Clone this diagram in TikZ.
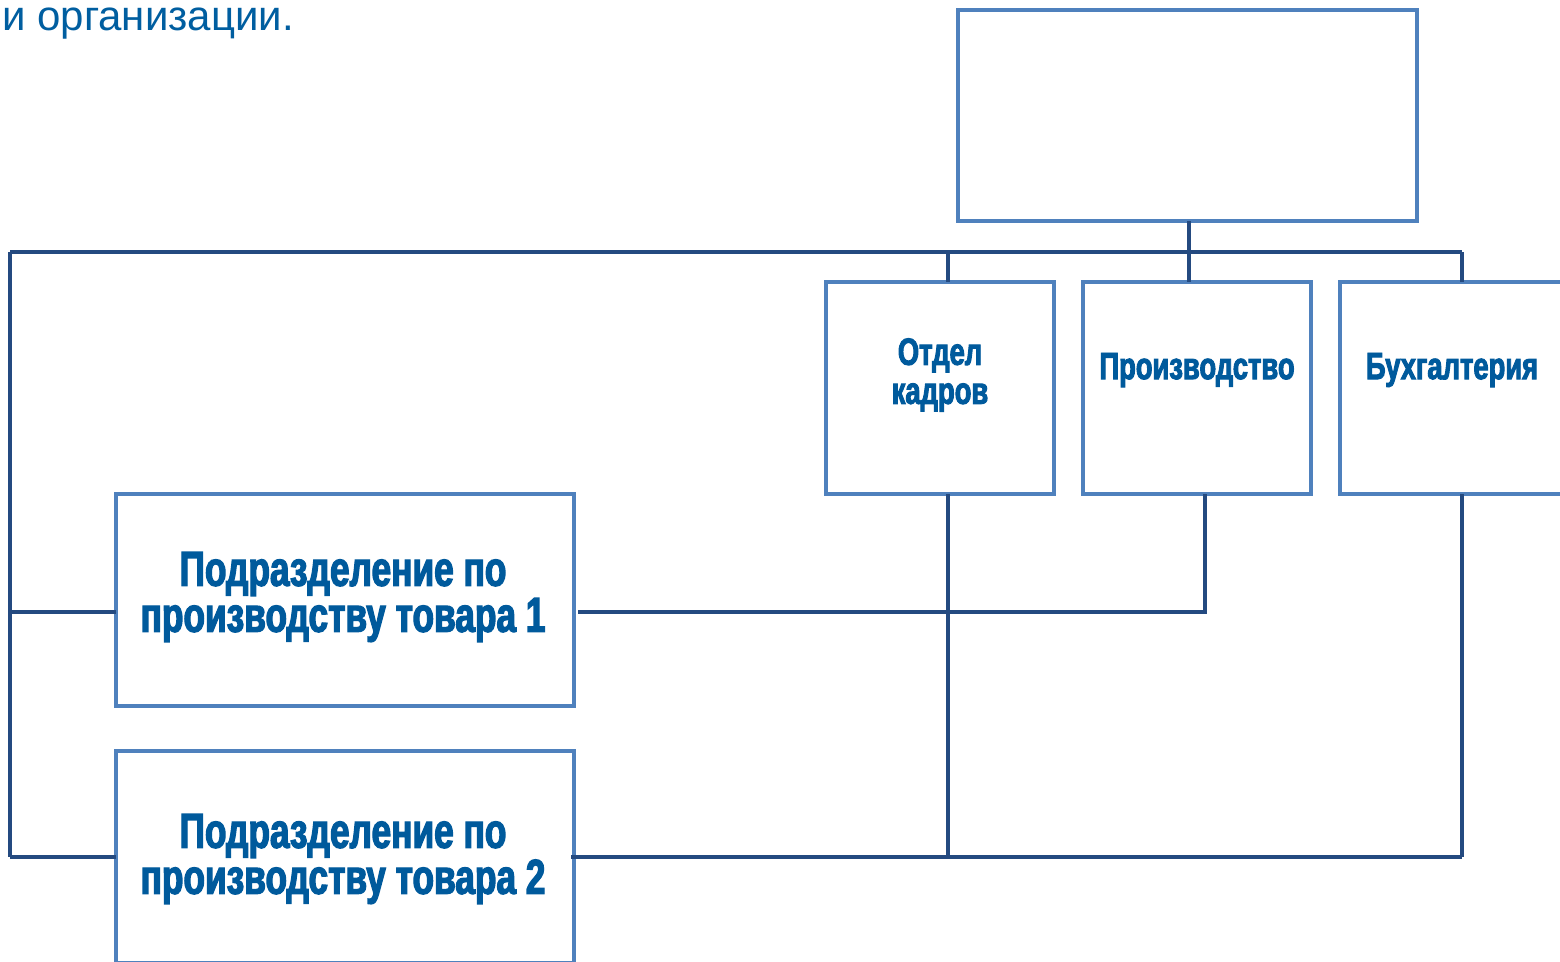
\documentclass[tikz,border=0pt]{standalone}
\usepackage{fontspec}
\setmainfont{Liberation Sans}
\newfontfamily\boxfont{Liberation Sans}[UprightFont={* Bold}, FakeStretch=0.72, FakeBold=2.5]
\definecolor{boxborder}{RGB}{79,129,189}
\definecolor{conn}{RGB}{36,74,128}
\definecolor{boxtext}{RGB}{0,90,156}
\definecolor{toptext}{RGB}{0,94,160}
\tikzset{
  unit/.style={draw=boxborder, line width=3.5pt, fill=white, inner sep=0pt, outer sep=0pt, minimum width=#1, minimum height=212pt},
  link/.style={draw=conn, line width=3.5pt},
  biglabel/.style={text=boxtext, align=center, font=\boxfont\fontsize{49}{46}\selectfont, inner sep=0pt},
  smalllabel/.style={text=boxtext, align=center, font=\boxfont\fontsize{38}{39}\selectfont, inner sep=0pt}
}
\begin{document}
\begin{tikzpicture}[x=1pt,y=-1pt]
\useasboundingbox (0,0) rectangle (1560,961);
\clip (0,0) rectangle (1560,961);
\fill[white] (0,0) rectangle (1560,961);
% heading fragment
\node[anchor=base west, text=toptext, font=\fontsize{42}{46}\selectfont, inner sep=0pt, text height=22pt] (head) at (2,30) {и организации.};
% boxes
\node[unit=459pt, minimum height=211pt] (top) at (1187.5,115.5) {};
\node[unit=228pt] (hr) at (940,388) {};
\node[unit=228pt] (prod) at (1197,388) {};
\node[unit=228pt] (acc) at (1454,388) {};
\node[unit=458pt] (div1) at (345,600) {};
\node[unit=458pt] (div2) at (345,857) {};
% labels
\node[smalllabel] (hrl) at (940,375) {Отдел\\кадров};
\node[smalllabel] (prodl) at (1197,370) {Производство};
\node[smalllabel] (accl) at (1452,370) {Бухгалтерия};
\node[biglabel] (div1l) at (343,597) {Подразделение по\\производству товара 1};
\node[biglabel] (div2l) at (343,859) {Подразделение по\\производству товара 2};
% connectors
\coordinate (busL) at (10,252);
\coordinate (busR) at (1462,252);
\coordinate (midT) at (1189,252);
\coordinate (lowL) at (10,857);
\coordinate (lowR) at (1462,857);
\coordinate (hrB) at (948,857);
\coordinate (elbow) at (1205,612);
\path[link] (midT |- top.south) -- (midT);
\path[link] (busL) -- (busR);
\path[link] (948,252) -- (948,282);
\path[link] (midT) -- (midT |- prod.north);
\path[link] (busR) -- (1462,282);
\path[link] (busL) -- (lowL);
\path[link] (10,612) -- (div1.west |- 10,612);
\path[link] (lowL) -- (div2.west);
\path[link] (578,612) -- (elbow) -- (elbow |- prod.south);
\path[link] (948,494) -- (hrB);
\path[link] (571,857) -- (lowR);
\path[link] (1462,494) -- (lowR);
\end{tikzpicture}
\end{document}
